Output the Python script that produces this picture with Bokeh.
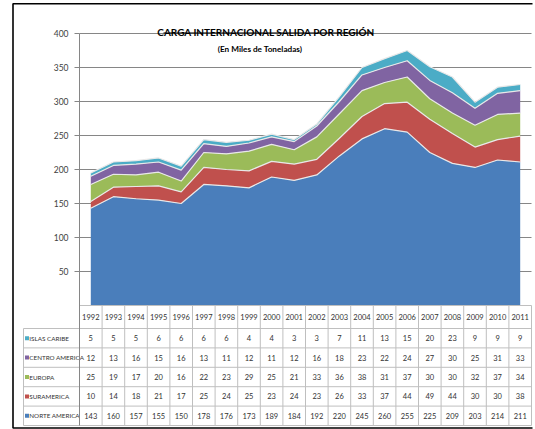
from bokeh.plotting import figure
from bokeh.models import Range1d, FixedTicker, Label, ColumnDataSource
from bokeh.embed import file_html
from bokeh.resources import INLINE
from bokeh.core.properties import value

years = ["1992", "1993", "1994", "1995", "1996", "1997", "1998", "1999", "2000", "2001",
         "2002", "2003", "2004", "2005", "2006", "2007", "2008", "2009", "2010", "2011"]
norte_america = [143, 160, 157, 155, 150, 178, 176, 173, 189, 184, 192, 220, 245, 260, 255, 225, 209, 203, 214, 211]
suramerica = [10, 14, 18, 21, 17, 25, 24, 25, 23, 24, 23, 26, 33, 37, 44, 49, 44, 30, 30, 38]
europa = [25, 19, 17, 20, 16, 22, 23, 29, 25, 21, 33, 36, 38, 31, 37, 30, 30, 32, 37, 34]
centro_america = [12, 13, 16, 15, 16, 13, 11, 12, 11, 12, 16, 18, 23, 22, 24, 27, 30, 25, 31, 33]
islas_caribe = [5, 5, 5, 6, 6, 6, 6, 4, 4, 3, 3, 7, 11, 13, 15, 20, 23, 9, 9, 9]

series_names = ["NORTE AMERICA", "SURAMERICA", "EUROPA", "CENTRO AMERICA", "ISLAS CARIBE"]
series_values = [norte_america, suramerica, europa, centro_america, islas_caribe]
colors = ["#4a7ebb", "#c0504d", "#9bbb59", "#8064a2", "#4bacc6"]
y_ticks = [50, 100, 150, 200, 250, 300, 350, 400]
title_text = "CARGA INTERNACIONAL SALIDA  POR REGIÓN"
subtitle_text = "(En Miles de Toneladas)"

FONT = "Lato"
n = len(years)
xs = list(range(n))

# layout constants (pixels)
W, H = 535, 429
COL = 22.6          # px per category column
X0PX = 90.3         # px of first category centre
Y0PX = 305.0        # px of value 0
YS = 0.68           # px per unit
FL, FT, FB = 11, 2, 429   # frame left / top / bottom px

x_start = -(X0PX - FL) / COL
x_end = (W - X0PX) / COL
y_top = (Y0PX - FT) / YS
y_bot = -(FB - Y0PX) / YS


def ypx(px_below_zero):
    return -px_below_zero / YS


p = figure(width=W, height=H, output_backend="svg", toolbar_location=None,
           x_range=Range1d(x_start, x_end), y_range=Range1d(y_bot, y_top),
           min_border_left=FL, min_border_right=0, min_border_top=FT, min_border_bottom=H - FB)
p.xaxis.visible = False
p.grid.visible = False
p.outline_line_color = None
p.background_fill_color = "white"
p.border_fill_color = "white"

table_bottom = ypx(120)
label_left = -0.5 - (79 - 23) / COL

# outer chart-area border (left, top, bottom)
bx = (12.5 - X0PX) / COL
bxr = (532 - X0PX) / COL
by_top = (Y0PX - 3.2) / YS
by_bot = ypx(427.5 - Y0PX)
p.line([bxr, bx, bx, bxr], [by_top, by_top, by_bot, by_bot],
       line_color="black", line_width=1.6)

yax = p.yaxis[0]
yax.fixed_location = -0.5
yax.bounds = (table_bottom, 400)
yax.ticker = FixedTicker(ticks=y_ticks)
yax.axis_line_color = "#868686"
yax.major_tick_line_color = "#868686"
yax.major_tick_out = 5
yax.major_tick_in = 0
yax.minor_tick_line_color = None
yax.major_label_text_font = FONT
yax.major_label_text_font_size = "8.5px"
yax.major_label_text_color = "#404040"
yax.major_label_standoff = 6

# horizontal value gridlines
p.segment(x0=[-0.5] * len(y_ticks), y0=y_ticks, x1=[n - 0.5] * len(y_ticks), y1=y_ticks,
          line_color="#868686", line_width=1)

# stacked areas
data = {"x": xs}
keys = []
for i, vals in enumerate(series_values):
    k = "s%d" % i
    data[k] = vals
    keys.append(k)
src = ColumnDataSource(data)
p.varea_stack(stackers=keys, x="x", color=colors, source=src)
cum = [0] * n
for vals in series_values:
    cum = [c + v for c, v in zip(cum, vals)]
    p.line(xs, cum, line_color="#e8e8e8", line_width=1.2)

# titles
tx = (267 - X0PX) / COL
p.add_layout(Label(x=tx, y=402.5, text=title_text,
                   text_font=FONT, text_font_size="10px", text_font_style="bold",
                   text_align="center", text_baseline="alphabetic", text_color="black"))
p.segment(x0=[(163 - X0PX) / COL], y0=[400.8], x1=[(372 - X0PX) / COL], y1=[400.8],
          line_color="black", line_width=1)
p.add_layout(Label(x=(259.5 - X0PX) / COL, y=(Y0PX - 48) / YS, text=subtitle_text,
                   text_font=FONT, text_font_size="8.2px", text_font_style="bold",
                   text_align="center", text_baseline="middle", text_color="black"))

# ---------------- data table ----------------
row_px = [0, 23, 42.4, 61.8, 81.2, 100.6, 120]
row_edges = [ypx(v) for v in row_px]
grid_c = "#bfbfbf"
vx, vy0, vy1 = [], [], []
for k in range(1, n + 1):
    vx.append(-0.5 + k); vy0.append(0); vy1.append(table_bottom)
vx.append(label_left); vy0.append(row_edges[1]); vy1.append(table_bottom)
p.segment(x0=vx, y0=vy0, x1=vx, y1=vy1, line_color=grid_c, line_width=1)
hx0, hy = [], []
for j, e in enumerate(row_edges):
    hx0.append(-0.5 if j == 0 else label_left)
    hy.append(e)
p.segment(x0=hx0, y0=hy, x1=[n - 0.5] * len(hy), y1=hy, line_color=grid_c, line_width=1)

hdr_y = (row_edges[0] + row_edges[1]) / 2
p.text(x=xs, y=[hdr_y] * n, text=years, text_font=value(FONT), text_font_size="7.5px",
       text_align="center", text_baseline="middle", text_color="#333333")

table_rows = list(reversed(list(zip(series_names, series_values, colors))))
for r, (name, vals, col) in enumerate(table_rows):
    yc = (row_edges[r + 1] + row_edges[r + 2]) / 2
    p.text(x=xs, y=[yc] * n, text=[str(v) for v in vals], text_font=value(FONT),
           text_font_size="7.5px", text_align="center", text_baseline="middle",
           text_color="#333333")
    p.scatter(x=[label_left + 3.5 / COL], y=[yc], marker="square", size=4,
              fill_color=col, line_color=None)
    p.text(x=[label_left + 5.8 / COL], y=[yc], text=[name], text_font=value(FONT),
           text_font_size="6.3px", text_align="left", text_baseline="middle",
           text_color="#333333")

open("out.html", "w").write(file_html(p, INLINE))
